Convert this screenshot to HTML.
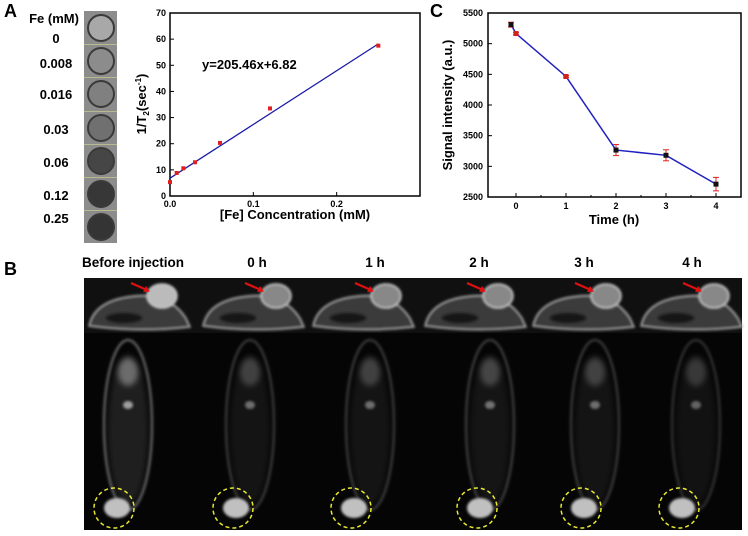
<!DOCTYPE html>
<html><head><meta charset="utf-8">
<style>
body{margin:0;width:748px;height:536px;background:#fff;overflow:hidden;font-family:"Liberation Sans",Arial,sans-serif}
svg{display:block}
</style></head><body>
<svg id="fig" width="748" height="536" viewBox="0 0 748 536" xmlns="http://www.w3.org/2000/svg">
<defs>
<filter id="blur1" x="-20%" y="-20%" width="140%" height="140%"><feGaussianBlur stdDeviation="1.2"/></filter>
<filter id="blur3" x="-30%" y="-30%" width="160%" height="160%"><feGaussianBlur stdDeviation="3"/></filter>
</defs>
<text x="4" y="17" font-size="18" font-weight="bold">A</text>
<text x="430" y="17" font-size="18" font-weight="bold">C</text>
<text x="4" y="275" font-size="18" font-weight="bold">B</text>
<g id="phantom"></g>
<g id="chartA"></g>
<g id="chartC"></g>
<g id="mri"></g>
</svg>
<script>
const NS='http://www.w3.org/2000/svg';
// ---- data: panel A
const feConc=[0,0.008,0.016,0.03,0.06,0.12,0.25];
const r2Vals=[5.3,8.8,10.6,12.9,20.3,33.5,57.5];
const fitSlope=205.46, fitIntercept=6.82;
const aXTicks=[0,0.1,0.2,0.3];
const aXTickLabels=['0.0','0.1','0.2','0.3'];
const aYTicks=[0,10,20,30,40,50,60,70];
// ---- data: panel C
const timeH=[-0.1,0,1,2,3,4];
const signal=[5310,5165,4465,3265,3180,2710];
const signalErr=[40,20,15,90,90,110];
const cXTicks=[0,1,2,3,4];
const cYTicks=[2500,3000,3500,4000,4500,5000,5500];
// ---- phantom labels
const phantomLabels=['0','0.008','0.016','0.03','0.06','0.12','0.25'];
const phantomGray=[168,140,128,112,70,55,52];
const colTitles=['Before injection','0 h','1 h','2 h','3 h','4 h'];

function el(tag,attrs,parent,text){const e=document.createElementNS(NS,tag);for(const k in attrs)e.setAttribute(k,attrs[k]);if(text!==undefined)e.textContent=text;parent.appendChild(e);return e;}

// Phantom
(function(){
 const g=document.getElementById('phantom');
 el('rect',{x:84,y:11,width:33,height:232,fill:'#8c8c8c'},g);
 const t=el('text',{x:54,y:23,'font-size':13,'font-weight':'bold','text-anchor':'middle'},g,'Fe (mM)');
 
 
 const ly=[38,63,94,129,162,195,218];
 const cy=[28,61,94,128,161,194,227];
 for(let i=0;i<7;i++){
  const c=el('circle',{cx:101,cy:cy[i],r:13,fill:`rgb(${phantomGray[i]},${phantomGray[i]},${phantomGray[i]})`,stroke:'#3a3a3a','stroke-width':2},g);
  
  
  if(i>0)el('line',{x1:84,x2:117,y1:cy[i]-16.5,y2:cy[i]-16.5,stroke:'#c8c890','stroke-width':0.7},g);
  const l=el('text',{x:56,y:ly[i]+5,'font-size':13,'font-weight':'bold','text-anchor':'middle'},g,phantomLabels[i]);
  
  
 }
})();

// Chart A
(function(){
 const g=document.getElementById('chartA');
 const L=170,R=420,T=13,B=196;
 const xs=v=>L+(v-0)/0.3*(R-L), ys=v=>B-(v/70)*(B-T);
 el('rect',{x:L,y:T,width:R-L,height:B-T,fill:'none',stroke:'#000','stroke-width':1.5},g);
 aXTicks.forEach((v,i)=>{el('line',{x1:xs(v),x2:xs(v),y1:B,y2:B-4,stroke:'#000'},g);
  if(i<3){const t=el('text',{x:xs(v),y:B+11,'font-size':9,'font-weight':'bold','text-anchor':'middle'},g,aXTickLabels[i]);
  }});
 aYTicks.forEach(v=>{el('line',{x1:L,x2:L+4,y1:ys(v),y2:ys(v),stroke:'#000'},g);
  const t=el('text',{x:L-4,y:ys(v)+3,'font-size':9,'font-weight':'bold','text-anchor':'end'},g,String(v));
  });
 const fl=el('line',{x1:xs(0),y1:ys(fitIntercept),x2:xs(0.25),y2:ys(fitIntercept+fitSlope*0.25),stroke:'#1a1aa8','stroke-width':1.3},g);
 
 feConc.forEach((v,i)=>{const p=el('rect',{x:xs(v)-2,y:ys(r2Vals[i])-2,width:4,height:4,fill:'#e02020'},g);
  });
 const eq=el('text',{x:202,y:69,'font-size':13,'font-weight':'bold'},g,'y=205.46x+6.82');
 
 const xt=el('text',{x:295,y:219,'font-size':13,'font-weight':'bold','text-anchor':'middle'},g,'[Fe] Concentration (mM)');
 
 const yt=el('text',{x:0,y:0,'font-size':13,'font-weight':'bold','text-anchor':'middle',transform:'translate(146,104) rotate(-90)'},g);
 
 yt.innerHTML='1/T<tspan font-size="8" dy="3">2</tspan><tspan dy="-3">(sec</tspan><tspan font-size="8" dy="-5">-1</tspan><tspan dy="5">)</tspan>';
})();

// Chart C
(function(){
 const g=document.getElementById('chartC');
 const L=488,R=741,T=13,B=197;
 const xs=v=>516+v*50, ys=v=>B-(v-2500)/3000*(B-T);
 el('rect',{x:L,y:T,width:R-L,height:B-T,fill:'none',stroke:'#000','stroke-width':1.5},g);
 cXTicks.forEach(v=>{el('line',{x1:xs(v),x2:xs(v),y1:B,y2:B-4,stroke:'#000'},g);
  el('line',{x1:xs(v)+25,x2:xs(v)+25,y1:B,y2:B-2,stroke:'#000'},g);
  const t=el('text',{x:xs(v),y:B+12,'font-size':9,'font-weight':'bold','text-anchor':'middle'},g,String(v));
  });
 cYTicks.forEach(v=>{el('line',{x1:L,x2:L+4,y1:ys(v),y2:ys(v),stroke:'#000'},g);
  const t=el('text',{x:L-5,y:ys(v)+3,'font-size':9,'font-weight':'bold','text-anchor':'end'},g,String(v));
  });
 const pts=timeH.map((t,i)=>xs(t)+','+ys(signal[i])).join(' ');
 const pl=el('polyline',{points:pts,fill:'none',stroke:'#2020c0','stroke-width':1.5},g);
 
 timeH.forEach((t,i)=>{const x=xs(t),y1=ys(signal[i]+signalErr[i]),y2=ys(signal[i]-signalErr[i]);
  el('line',{x1:x,x2:x,y1:y1,y2:y2,stroke:'#e02020','stroke-width':1},g);
  el('line',{x1:x-3,x2:x+3,y1:y1,y2:y1,stroke:'#e02020','stroke-width':1},g);
  el('line',{x1:x-3,x2:x+3,y1:y2,y2:y2,stroke:'#e02020','stroke-width':1},g);
  const p=el('rect',{x:x-2.5,y:ys(signal[i])-2.5,width:5,height:5,fill:(i==1||i==2)?'#d02020':'#111'},g);
  });
 const xt=el('text',{x:614,y:224,'font-size':13,'font-weight':'bold','text-anchor':'middle'},g,'Time (h)');
 
 const yt=el('text',{x:0,y:0,'font-size':13,'font-weight':'bold','text-anchor':'middle',transform:'translate(452,105) rotate(-90)'},g,'Signal intensity (a.u.)');
 
})();

// MRI panel (illustrative)
(function(){
 const g=document.getElementById('mri');
 el('rect',{x:84,y:278,width:658,height:252,fill:'#050505'},g);
 el('rect',{x:84,y:278,width:658,height:55,fill:'#101010'},g);
 const titleX=[133,257,375,479,584,692];
 const colX=[84,198,308,420,528,636];
 const bodyX=[128,250,370,490,595,696];
 const tumX=[114,233,351,477,581,679];
 const bright=[0.55,0.3,0.3,0.32,0.3,0.25];
 colTitles.forEach((s,i)=>{
  const t=el('text',{x:titleX[i],y:267,'font-size':13.5,'font-weight':'bold','text-anchor':'middle'},g,s);
  
  const c=colX[i];
  const ax=el('path',{d:`M${c+5},${326} Q${c+10},${300} ${c+50},${296} Q${c+85},${292} ${c+102},${318} L${c+106},${327} Q${c+55},${333} ${c+5},${326}Z`,fill:'#3a3a3a',stroke:'#aaa','stroke-width':1.5,filter:'url(#blur1)'},g);
  
  el('ellipse',{cx:c+40,cy:318,rx:18,ry:5,fill:'#151515',filter:'url(#blur1)'},g);
  el('ellipse',{cx:c+78,cy:296,rx:15,ry:12,fill:i==0?'#bbb':'#888',stroke:'#ccc','stroke-width':1.5,filter:'url(#blur1)'},g);
  const ar=el('line',{x1:c+47,y1:283,x2:c+63,y2:290,stroke:'#e01010','stroke-width':2.2},g);
  
  el('polygon',{points:`${c+66},${291.5} ${c+59},${292} ${c+62},${286}`,fill:'#e01010'},g);
  const op=bright[i];
  const b=el('ellipse',{cx:bodyX[i],cy:425,rx:24,ry:85,fill:'none',stroke:`rgba(170,170,170,${op})`,'stroke-width':2.5,filter:'url(#blur1)'},g);
  
  el('ellipse',{cx:bodyX[i],cy:430,rx:20,ry:75,fill:`rgba(110,110,110,${op*0.45})`,filter:'url(#blur3)'},g);
  el('ellipse',{cx:bodyX[i],cy:372,rx:10,ry:14,fill:`rgba(170,170,170,${op})`,filter:'url(#blur3)'},g);
  el('ellipse',{cx:bodyX[i],cy:405,rx:5,ry:4,fill:`rgba(200,200,200,${op+0.2})`,filter:'url(#blur1)'},g);
  el('ellipse',{cx:tumX[i]+3,cy:508,rx:13,ry:10,fill:'#c0c0c0',filter:'url(#blur1)'},g);
  const yc=el('circle',{cx:tumX[i],cy:508,r:20,fill:'none',stroke:'#e8e830','stroke-width':1.5,'stroke-dasharray':'4 3'},g);
  
 });
})();
</script>
</body></html>
